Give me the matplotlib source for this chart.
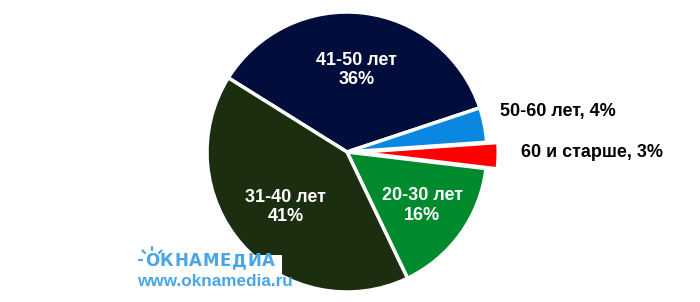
import matplotlib.pyplot as plt
import numpy as np

plt.rcParams['font.family'] = ['Liberation Sans', 'DejaVu Sans']

# data (clockwise from upper-left)
groups = ['41-50 лет', '50-60 лет', '60 и старше', '20-30 лет', '31-40 лет']
shares = [36, 4, 3, 16, 41]
colors = ['#010d3b', '#0a87e0', '#ff0000', '#008a2e', '#1c2e10']
explode = [0, 0, 0.08, 0, 0]
inside = [True, False, False, True, True]

fig = plt.figure(figsize=(7, 3.02), dpi=100)
ax = fig.add_axes([0, 0, 1, 1])
ax.axis('off')

wedges, _ = ax.pie(shares, colors=colors, explode=explode, startangle=148,
                   counterclock=False, radius=1,
                   wedgeprops=dict(edgecolor='white', linewidth=2.5))

# 140 px per unit, pie centre at (347, 152) px
ax.set_aspect('auto')
ax.set_xlim(-347 / 140, 353 / 140)
ax.set_ylim(-150 / 140, 152 / 140)

in_dist = {0: 0.59, 3: 0.66, 4: 0.59}
out_pos = {1: (1.09, 0.29), 2: (1.24, -0.005)}
for i, w in enumerate(wedges):
    mid = np.deg2rad((w.theta1 + w.theta2) / 2)
    if inside[i]:
        r = in_dist[i]
        ax.text(r * np.cos(mid), r * np.sin(mid), f'{groups[i]}\n{shares[i]}%',
                ha='center', va='center', color='white', fontsize=13,
                fontweight='bold', linespacing=1.2)
    else:
        x, y = out_pos[i]
        ax.text(x, y, f'{groups[i]}, {shares[i]}%', ha='left', va='center',
                color='black', fontsize=13, fontweight='bold')

# watermark
wm = '#4aa6e6'
px = lambda x, y: (x / 700, 1 - y / 302)
ax.add_patch(plt.Rectangle(px(136, 290), 146 / 700, 35 / 302, transform=ax.transAxes,
                           facecolor='white', edgecolor='none', zorder=4))
for k, ch in enumerate('ОКНАМЕДИА'):
    ax.text(*px(152 + 14.6 * k, 261.5), ch, transform=ax.transAxes, ha='center',
            va='center', color=wm, fontsize=12, fontweight='bold',
            family='DejaVu Sans', zorder=5)
for a in [180, 135, 90, 45]:
    t = np.deg2rad(a)
    x0, y0 = px(152 + 10 * np.cos(t), 260 - 10 * np.sin(t))
    x1, y1 = px(152 + 13.5 * np.cos(t), 260 - 13.5 * np.sin(t))
    ax.plot([x0, x1], [y0, y1], transform=ax.transAxes, color=wm, lw=1.6,
            solid_capstyle='round', zorder=5)
ax.text(*px(137, 281), 'www.oknamedia.ru', transform=ax.transAxes,
        ha='left', va='center', color=wm, fontsize=12.3, fontweight='bold', zorder=5)

fig.savefig('out.png', dpi=100, facecolor='white')
